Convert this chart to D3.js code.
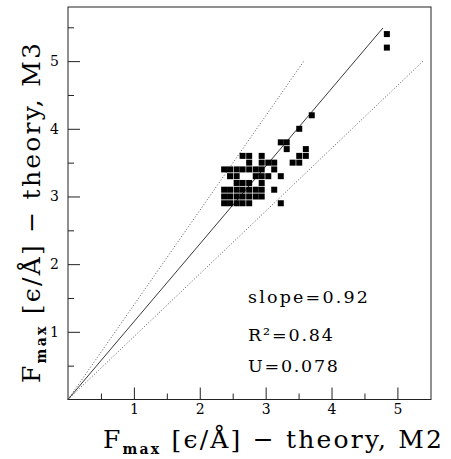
<!DOCTYPE html>
<html>
<head>
<meta charset="utf-8">
<script src="https://cdn.jsdelivr.net/npm/d3@7"></script>
<style>
  body { margin: 0; background: #fff; }
  text { font-family: "DejaVu Serif", serif; fill: #000; }
</style>
</head>
<body>
<svg id="drawing_region"></svg>
<script>
// data
const xs = [
    2.37, 2.46, 2.56, 2.65, 2.75,                    // row 2.9
    3.23,
    2.37, 2.46, 2.56, 2.65, 2.75, 2.85, 2.94,        // row 3.0
    2.37, 2.46, 2.56, 2.65, 2.75, 2.85, 2.94, 3.13,  // row 3.1
    2.56, 2.65, 2.75, 2.94,                          // row 3.2
    2.46, 2.56, 2.85, 2.94, 3.04, 3.23,              // row 3.3
    2.37, 2.46, 2.56, 2.65, 2.75, 2.85, 2.94, 3.13,  // row 3.4
    2.75, 2.94, 3.04, 3.13, 3.41, 3.51,              // row 3.5
    2.65, 2.75, 2.94, 3.51, 3.61,                    // row 3.6
    3.32, 3.61,                                      // row 3.7
    3.23, 3.32,                                      // row 3.8
    3.51, 3.70, 4.84, 4.84
];
const ys = [
    2.9, 2.9, 2.9, 2.9, 2.9,
    2.9,
    3.0, 3.0, 3.0, 3.0, 3.0, 3.0, 3.0,
    3.1, 3.1, 3.1, 3.1, 3.1, 3.1, 3.1, 3.1,
    3.2, 3.2, 3.2, 3.2,
    3.3, 3.3, 3.3, 3.3, 3.3, 3.3,
    3.4, 3.4, 3.4, 3.4, 3.4, 3.4, 3.4, 3.4,
    3.5, 3.5, 3.5, 3.5, 3.5, 3.5,
    3.6, 3.6, 3.6, 3.6, 3.6,
    3.7, 3.7,
    3.8, 3.8,
    4.0, 4.2, 5.2, 5.4
];
const majorTicks = [1, 2, 3, 4, 5];
const minorTicks = [0.5, 1.5, 2.5, 3.5, 4.5, 5.5];
const fitLine = [[0, 0], [4.78, 5.49]];
const upperLine = [[0, 0], [3.58, 5.0]];
const lowerLine = [[0, 0], [5.39, 5.0]];
const stats = ["slope=0.92", "R²=0.84", "U=0.078"];

const width = 451, height = 459;
const margin = {top: 7, right: 20, bottom: 60, left: 68};

const svg = d3.select('#drawing_region')
    .attr('width', width)
    .attr('height', height);

const x = d3.scaleLinear().domain([0, 5.51]).range([margin.left, width - margin.right]);
const y = d3.scaleLinear().domain([0, 5.8]).range([height - margin.bottom + 0.5, margin.top]);

// frame
svg.append('rect')
    .attr('x', x(0)).attr('y', y(5.8))
    .attr('width', x(5.51) - x(0)).attr('height', y(0) - y(5.8))
    .attr('fill', 'none').attr('stroke', '#222').attr('stroke-width', 1);

// axes, ticks pointing inward
const styleAxis = g => {
    g.select('.domain').remove();
    g.selectAll('line').attr('stroke', '#222');
    g.selectAll('text').attr('font-size', 14).attr('font-family', '"DejaVu Serif", serif');
};

svg.append('g')
    .attr('transform', `translate(0, ${y(0)})`)
    .call(d3.axisBottom(x).tickValues(majorTicks).tickSize(-12).tickPadding(5).tickFormat(d3.format('d')))
    .call(styleAxis);
svg.append('g')
    .attr('transform', `translate(0, ${y(0)})`)
    .call(d3.axisBottom(x).tickValues(minorTicks.filter(d => d < 5.5)).tickSize(-6).tickFormat(''))
    .call(styleAxis);

svg.append('g')
    .attr('transform', `translate(${x(0)}, 0)`)
    .call(d3.axisLeft(y).tickValues(majorTicks).tickSize(-12).tickPadding(9).tickFormat(d3.format('d')))
    .call(styleAxis);
svg.append('g')
    .attr('transform', `translate(${x(0)}, 0)`)
    .call(d3.axisLeft(y).tickValues(minorTicks).tickSize(-6).tickFormat(''))
    .call(styleAxis);

// reference lines
const line = d3.line().x(d => x(d[0])).y(d => y(d[1]));
svg.append('path').attr('d', line(fitLine))
    .attr('fill', 'none').attr('stroke', '#222').attr('stroke-width', 0.9);
[upperLine, lowerLine].forEach(l => {
    svg.append('path').attr('d', line(l))
        .attr('fill', 'none').attr('stroke', '#444').attr('stroke-width', 0.9)
        .attr('stroke-dasharray', '1,2');
});

// points
const pts = xs.map((d, i) => ({x: d, y: ys[i]}));
const s = 6;
svg.selectAll('rect.pt').data(pts)
    .join('rect')
    .attr('class', 'pt')
    .attr('x', d => x(d.x) - s / 2)
    .attr('y', d => y(d.y) - s / 2)
    .attr('width', s).attr('height', s)
    .attr('fill', '#000');

// stats
const statWidths = [120, 85, 90];
const statBaselines = [303, 341, 372];
svg.selectAll('text.stat').data(stats)
    .join('text')
    .attr('class', 'stat')
    .attr('x', 248)
    .attr('y', (d, i) => statBaselines[i])
    .attr('font-size', 17.5)
    .attr('textLength', (d, i) => statWidths[i])
    .attr('lengthAdjust', 'spacing')
    .text(d => d);

// axis titles
const title = (g, tail) => {
    g.append('tspan').text('F');
    g.append('tspan').attr('dy', 6).attr('font-size', 14).attr('font-weight', 'bold').text('max');
    g.append('tspan').attr('dy', -6).text(' [ϵ/Å] − theory, ' + tail);
};

svg.append('text')
    .attr('x', 103).attr('y', 448)
    .attr('font-size', 25)
    .attr('textLength', 339)
    .call(title, 'M2');

svg.append('text')
    .attr('transform', 'translate(40, 383) rotate(-90)')
    .attr('font-size', 25)
    .attr('textLength', 340)
    .call(title, 'M3');
</script>
</body>
</html>
